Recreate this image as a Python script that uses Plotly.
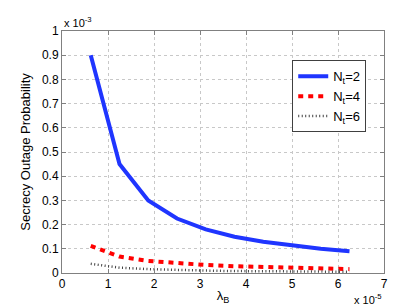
import plotly.graph_objects as go

# lambda_B in units of 1e-5, outage probability in units of 1e-3
lambda_b = [0.625, 1.25, 1.875, 2.5, 3.125, 3.75, 4.375, 5.0, 5.625, 6.25]
p_nt2 = [0.90, 0.45, 0.30, 0.225, 0.18, 0.15, 0.129, 0.1125, 0.10, 0.09]
p_nt4 = [0.112, 0.068, 0.050, 0.040, 0.033, 0.028, 0.024, 0.021, 0.018, 0.016]
p_nt6 = [0.038, 0.022, 0.016, 0.012, 0.010, 0.008, 0.007, 0.006, 0.0055, 0.005]

fig = go.Figure()
fig.add_trace(go.Scatter(x=lambda_b, y=p_nt2, mode='lines', name='N<sub>t</sub>=2',
                         line=dict(color='#1f35ff', width=4)))
fig.add_trace(go.Scatter(x=lambda_b, y=p_nt4, mode='lines', name='N<sub>t</sub>=4',
                         line=dict(color='#ff0000', width=4, dash='5px,5px')))
fig.add_trace(go.Scatter(x=lambda_b, y=p_nt6, mode='lines', name='N<sub>t</sub>=6',
                         line=dict(color='#404040', width=2.5, dash='1px,2.5px')))

axis_common = dict(showline=True, linecolor='#808080', linewidth=1, mirror='ticks',
                   ticks='inside', ticklen=4, tickcolor='#808080',
                   showgrid=True, gridcolor='#c8c8c8', griddash='dot', gridwidth=1,
                   zeroline=False, tickfont=dict(size=12, color='black'))

fig.update_xaxes(range=[0, 7], dtick=1, title=dict(text='λ<sub>B</sub>', standoff=0,
                 font=dict(size=13, color='black')), **axis_common)
fig.update_yaxes(range=[0, 1], dtick=0.1,
                 title=dict(text='Secrecy Outage Probability', standoff=8,
                            font=dict(size=13, color='black')), **axis_common)
fig.update_yaxes(tickvals=[0, 0.1, 0.2, 0.3, 0.4, 0.5, 0.6, 0.7, 0.8, 0.9, 1],
                 ticktext=['0', '0.1', '0.2', '0.3', '0.4', '0.5', '0.6', '0.7', '0.8', '0.9', '1'])

fig.add_annotation(x=0, y=1, xref='paper', yref='paper', xanchor='left', yanchor='bottom',
                   text='x 10<sup>-3</sup>', showarrow=False, font=dict(size=11, color='black'))
fig.add_annotation(x=1, y=0, xref='paper', yref='paper', xanchor='right', yanchor='top',
                   yshift=-17, text='x 10<sup>-5</sup>', showarrow=False,
                   font=dict(size=11, color='black'))

fig.update_layout(
    width=415, height=305,
    margin=dict(l=54, r=39, t=23, b=34),
    paper_bgcolor='white', plot_bgcolor='white',
    font=dict(family='Liberation Sans, Arial, sans-serif', color='black'),
    legend=dict(x=0.715, y=0.879, xanchor='left', yanchor='top',
                bordercolor='#404040', borderwidth=1, bgcolor='white',
                font=dict(size=13), tracegroupgap=0, itemwidth=30),
    showlegend=True,
)

fig.write_html("out.html")
